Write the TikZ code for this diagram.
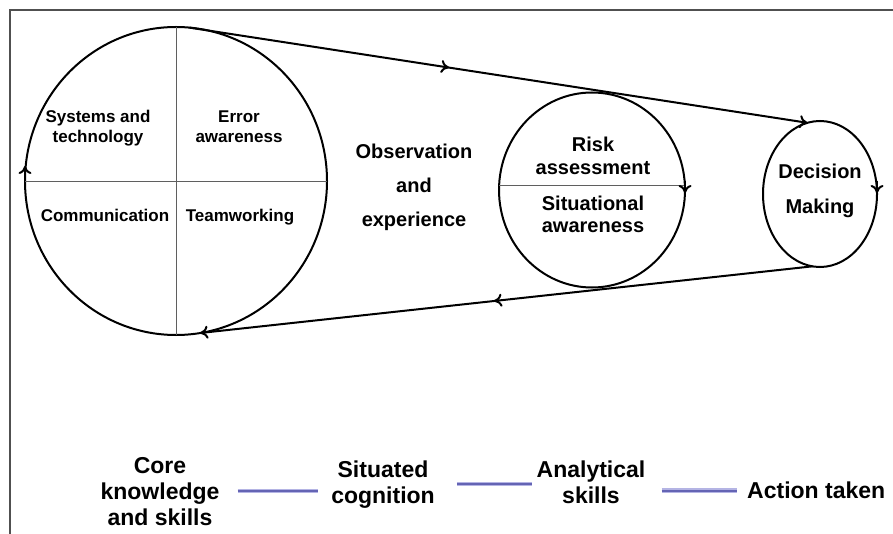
\documentclass[tikz,border=0pt]{standalone}
\usepackage{fontspec}
\setmainfont{Liberation Sans}
\usetikzlibrary{shapes.geometric,arrows.meta,decorations.markings,calc}
\definecolor{framegray}{RGB}{80,80,80}
\definecolor{divgray}{RGB}{95,95,95}
\definecolor{linkcore}{RGB}{100,100,180}
\definecolor{linkhalo}{RGB}{180,180,228}
\begin{document}
\begin{tikzpicture}[x=1pt,y=-1pt,
  ring/.style={draw=black, line width=2pt, ellipse, inner sep=0pt, outer sep=0pt},
  divider/.style={draw=divgray, line width=0.9pt},
  conn/.style={draw=black, line width=2pt},
  tip/.style={-{To[length=8pt,width=13pt]}},
  midarrow/.style={postaction={decorate}, decoration={markings, mark=at position #1 with {\arrow{To[length=8pt,width=13pt]}}}},
  qtext/.style={font=\bfseries\fontsize{17}{20}\selectfont, align=center, anchor=base, inner sep=0pt},
  mtext/.style={font=\bfseries\fontsize{20}{#1}\selectfont, align=center, anchor=base, inner sep=0pt},
  btext/.style={font=\bfseries\fontsize{23}{26}\selectfont, align=center, anchor=base, inner sep=0pt},
  link/.style={draw=linkcore, line width=2.4pt, preaction={draw=linkhalo, line width=4.6pt}},
  framestyle/.style={draw=framegray, line width=2.5pt}
]
\useasboundingbox (0,0) rectangle (893,534);
\draw[framestyle] (893,10) -- (10,10) -- (10,534);

% circles
\node[ring, minimum width=302pt, minimum height=308pt] (core) at (176,181) {};
\node[ring, minimum width=186pt, minimum height=195pt] (risk) at (592,190) {};
\node[ring, minimum width=114pt, minimum height=146pt] (dec) at (820,194) {};

% dividers
\draw[divider] (core.north) -- (core.south);
\draw[divider] (core.west) -- (core.east);
\draw[divider] ([yshift=5pt]risk.west) -- ([yshift=5pt]risk.east);

% arrowheads on circles
\draw[conn, tip] ([yshift=4pt]core.west) -- ([yshift=15pt]core.west);
\draw[conn, tip] ([yshift=9pt]risk.east) -- ([yshift=-3pt]risk.east);
\draw[conn, tip] ([yshift=13pt]dec.east) -- ([yshift=1pt]dec.east);

% connectors
\draw[conn, tip, midarrow=0.42] (core.85) -- (dec.100);
\draw[conn, tip, midarrow=0.52] (dec.264) -- (core.279);

% texts in the big circle (anchor base = last line)
\node[qtext] (sys) at (98,143) {Systems and\\technology};
\node[qtext] (err) at (239,143) {Error\\awareness};
\node[qtext] (com) at (105,222) {Communication};
\node[qtext] (team) at (240,222) {Teamworking};

\node[mtext=34] (obs) at (414,227) {Observation\\and\\experience};
\node[mtext=23] (ra) at (593,175) {Risk\\assessment};
\node[mtext=22] (sa) at (593,233) {Situational\\awareness};
\node[mtext=35] (dm) at (820,214) {Decision\\Making};

% bottom row
\node[btext] (ck) at (160,525) {Core\\knowledge\\and skills};
\node[btext] (sit) at (383,503) {Situated\\cognition};
\node[btext] (ana) at (591,503) {Analytical\\skills};
\node[btext, anchor=base west] (act) at (747,498) {Action taken};

\draw[link] ($(ck.east)+(18,0)$) -- ($(ck.east -| sit.west)+(-13,0)$);
\draw[link] ($(sit.east)+(22,0)$) -- ($(sit.east -| ana.west)+(-4,0)$);
\draw[link] ($(ana.east |- act.west)+(16,1)$) -- ($(act.west)+(-10,1)$);
\end{tikzpicture}
\end{document}
